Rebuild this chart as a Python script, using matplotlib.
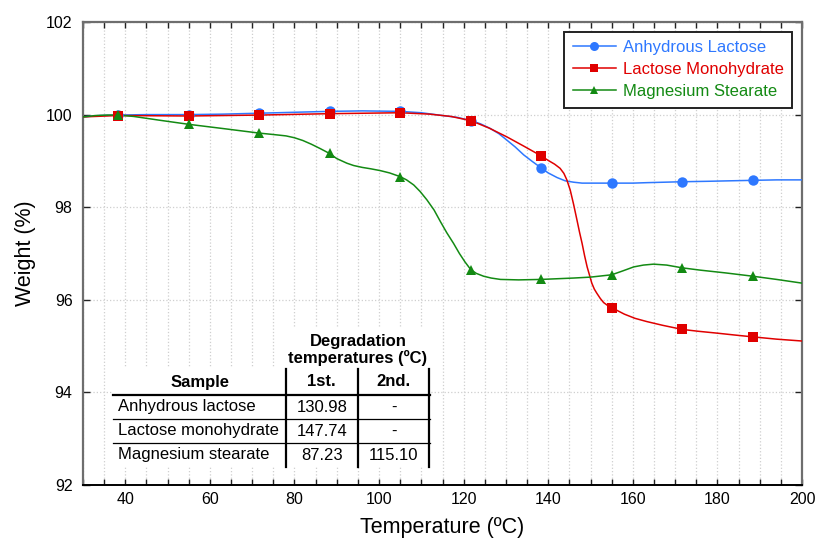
"""TGA curves of three excipients with degradation temperature table."""

import matplotlib
matplotlib.use("Agg")
from matplotlib import pyplot as plt
from matplotlib.lines import Line2D
from matplotlib.patches import Rectangle
from matplotlib.ticker import MultipleLocator

plt.rcParams["font.family"] = ["Liberation Sans", "DejaVu Sans"]

# ---- data ----
marker_temp = [38.3, 55.0, 71.7, 88.3, 105.0, 121.7, 138.3, 155.0, 171.7, 188.3]

anhydrous_marker_w = [99.99, 100.00, 100.03, 100.07, 100.07, 99.87, 98.85, 98.52, 98.55, 98.58]
monohydrate_marker_w = [99.98, 99.97, 99.99, 100.02, 100.04, 99.87, 99.11, 95.83, 95.36, 95.20]
stearate_marker_w = [99.99, 99.79, 99.60, 99.16, 98.66, 96.65, 96.44, 96.54, 96.69, 96.51]

anhydrous_t = [30, 34, 38.3, 45, 55, 63, 71.7, 80, 88.3, 96, 105, 110, 115, 118.5, 121.7,
               124, 126.3, 128.3, 130.2, 132.2, 134.2, 136.2, 138.3, 140, 142.1, 144,
               146.0, 148, 149.9, 155, 160, 163.3, 171.7, 178, 183, 188.3, 194, 200]
anhydrous_w = [99.95, 99.98, 99.99, 100.0, 100.0, 100.01, 100.03, 100.05, 100.07, 100.08,
               100.07, 100.04, 99.98, 99.94, 99.87, 99.80, 99.70, 99.59, 99.45, 99.30,
               99.13, 98.99, 98.85, 98.74, 98.64, 98.57, 98.54, 98.52, 98.52, 98.52,
               98.52, 98.53, 98.55, 98.56, 98.57, 98.58, 98.59, 98.59]

monohydrate_t = [30, 38.3, 55, 71.7, 88.3, 105, 112, 117, 121.7, 126, 130.2, 134.2,
                 138.3, 140, 141.5, 142.8, 143.7, 144.4, 145.2, 146.0, 146.8, 147.4,
                 148.0, 148.6, 149.2, 149.8, 150.3, 150.9, 151.5, 152.3, 153.1, 154.0,
                 155.1, 156.5, 158, 160.5, 163.3, 167, 171.7, 175.5, 179.9, 184, 188.3,
                 194, 200]
monohydrate_w = [99.95, 99.98, 99.97, 99.99, 100.02, 100.04, 100.01, 99.96, 99.87, 99.71,
                 99.52, 99.32, 99.11, 99.01, 98.93, 98.84, 98.73, 98.59, 98.37, 98.06,
                 97.72, 97.46, 97.22, 96.95, 96.71, 96.52, 96.36, 96.23, 96.14, 96.03,
                 95.94, 95.88, 95.83, 95.76, 95.69, 95.60, 95.53, 95.45, 95.36, 95.32,
                 95.28, 95.24, 95.20, 95.15, 95.11]

stearate_t = [30, 33, 35.7, 38.3, 42, 48, 55, 63, 71.7, 75, 78, 80, 82, 84, 86, 88.3,
              90, 92.4, 94, 96, 98, 100.3, 102.5, 105, 106.5, 108.2, 109.7, 111.3, 113,
              114.5, 116, 117.6, 119, 120.3, 121.7, 123, 124.7, 126.5, 128.7, 133,
              138.3, 146, 150, 155, 157.5, 160.2, 162.5, 164.9, 168, 171.7, 176, 182,
              188.3, 194, 200]
stearate_w = [99.95, 99.98, 99.99, 99.99, 99.96, 99.88, 99.79, 99.70, 99.60, 99.57,
              99.54, 99.50, 99.44, 99.36, 99.27, 99.16, 99.05, 98.95, 98.90, 98.86,
              98.83, 98.79, 98.74, 98.66, 98.59, 98.48, 98.34, 98.16, 97.94, 97.69,
              97.45, 97.22, 97.00, 96.82, 96.65, 96.57, 96.51, 96.47, 96.44, 96.43,
              96.44, 96.47, 96.49, 96.54, 96.62, 96.71, 96.75, 96.77, 96.75, 96.69,
              96.64, 96.58, 96.51, 96.44, 96.36]

series_names = ["Anhydrous Lactose", "Lactose Monohydrate", "Magnesium Stearate"]

table_samples = ["Anhydrous lactose", "Lactose monohydrate", "Magnesium stearate"]
table_first = ["130.98", "147.74", "87.23"]
table_second = ["-", "-", "115.10"]

# ---- style ----
BLUE = "#2e78ff"
RED = "#e00000"
GREEN = "#138a13"
W, H = 817, 542


def fx(px):
    return px / W


def fy(py):
    return 1 - py / H


fig = plt.figure(figsize=(W / 100, H / 100), dpi=100)
ax = fig.add_axes([fx(83), fy(485), (802 - 83) / W, (485 - 22) / H])

curves = [
    (anhydrous_t, anhydrous_w, anhydrous_marker_w, BLUE, "o", 7.5),
    (monohydrate_t, monohydrate_w, monohydrate_marker_w, RED, "s", 7),
    (stearate_t, stearate_w, stearate_marker_w, GREEN, "^", 7),
]
handles = []
for (t, w, mw, color, marker, ms), name in zip(curves, series_names):
    ax.plot(t, w, color=color, linewidth=1.1, zorder=3)
    ax.plot(marker_temp, mw, linestyle="none", marker=marker, markersize=ms,
            color=color, markeredgewidth=0, zorder=4)
    handles.append(Line2D([], [], color=color, linewidth=1.1, marker=marker,
                          markersize=ms - 1, markeredgewidth=0, label=name))

ax.set_xlim(30, 200)
ax.set_ylim(92, 102)
ax.xaxis.set_major_locator(MultipleLocator(20))
ax.xaxis.set_minor_locator(MultipleLocator(5))
ax.yaxis.set_major_locator(MultipleLocator(2))

ax.tick_params(axis="both", which="both", direction="in", top=True, right=True,
               labelsize=11.5, color="#222222")
ax.tick_params(axis="x", which="major", length=4.5, width=1, pad=5)
ax.tick_params(axis="x", which="minor", length=4, width=1)
ax.tick_params(axis="y", which="major", length=5, width=1, pad=7.5)

ax.grid(True, axis="x", which="both", linestyle=":", color="#cfcfcf", linewidth=0.9)
ax.grid(True, axis="y", which="major", linestyle=":", color="#cfcfcf", linewidth=0.9)
ax.set_axisbelow(True)

for side in ["left", "top", "right"]:
    ax.spines[side].set_color("#6e6e6e")
    ax.spines[side].set_linewidth(1.6)
ax.spines["bottom"].set_color("black")
ax.spines["bottom"].set_linewidth(1.4)

ax.set_xlabel("Temperature (ºC)", fontsize=15.5, labelpad=7)
ax.set_ylabel("Weight (%)", fontsize=15.5, labelpad=7)

leg = ax.legend(handles=handles, loc="upper right", fontsize=12, frameon=True,
                fancybox=False, framealpha=1, edgecolor="#222222",
                borderaxespad=0.6, handlelength=2.6, handletextpad=0.4,
                labelspacing=0.42, borderpad=0.5)
leg.get_frame().set_linewidth(1.4)
for text, (_, _, _, color, _, _) in zip(leg.get_texts(), curves):
    text.set_color(color)

# ---- degradation table (figure pixel layout) ----
fig.add_artist(Rectangle((fx(113), fy(467)), fx(430) - fx(113), fy(368) - fy(467),
                         transform=fig.transFigure, facecolor="white",
                         edgecolor="none", zorder=1))
fig.add_artist(Rectangle((fx(285), fy(368)), fx(430) - fx(285), fy(328) - fy(368),
                         transform=fig.transFigure, facecolor="white",
                         edgecolor="none", zorder=1))

tab_font = 12
fig.text(fx(358), fy(350), "Degradation\ntemperatures (ºC)", ha="center", va="center",
         fontsize=tab_font, fontweight="bold", linespacing=1.05, zorder=3)
fig.text(fx(200), fy(382), "Sample", ha="center", va="center", fontsize=tab_font,
         fontweight="bold", zorder=3)
fig.text(fx(321.7), fy(382), "1st.", ha="center", va="center", fontsize=tab_font,
         fontweight="bold", zorder=3)
fig.text(fx(393.5), fy(382), "2nd.", ha="center", va="center", fontsize=tab_font,
         fontweight="bold", zorder=3)

row_y = [407, 431, 455]
for yy, name, first, second in zip(row_y, table_samples, table_first, table_second):
    fig.text(fx(118), fy(yy), name, ha="left", va="center", fontsize=tab_font, zorder=3)
    fig.text(fx(321.7), fy(yy), first, ha="center", va="center", fontsize=tab_font, zorder=3)
    fig.text(fx(393.5), fy(yy), second, ha="center", va="center", fontsize=tab_font, zorder=3)

fig.add_artist(Line2D([fx(113), fx(430)], [fy(395), fy(395)], transform=fig.transFigure,
                      color="black", linewidth=1.6, zorder=2))
for yy in [419, 443]:
    fig.add_artist(Line2D([fx(113), fx(430)], [fy(yy), fy(yy)], transform=fig.transFigure,
                          color="black", linewidth=0.9, zorder=2))
for xx in [285.7, 357.7, 429]:
    fig.add_artist(Line2D([fx(xx), fx(xx)], [fy(369), fy(467)], transform=fig.transFigure,
                          color="black", linewidth=1.6, zorder=2))

fig.savefig("out.png", dpi=100)
